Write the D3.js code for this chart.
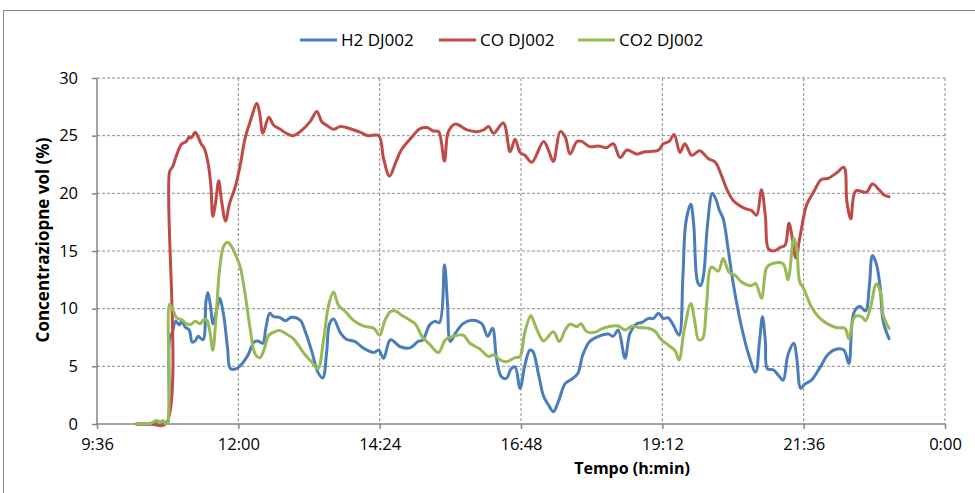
<!DOCTYPE html>
<html>
<head>
<meta charset="utf-8">
<script src="https://cdn.jsdelivr.net/npm/d3@7/dist/d3.min.js"></script>
<style>
body{margin:0;background:#fff;}
text{font-family:"Open Sans",sans-serif;fill:#000;}
</style>
</head>
<body>
<div id="chart_area"></div>
<script>
// series names
var seriesNames=["H2 DJ002","CO DJ002","CO2 DJ002"];
var seriesColors=["#4a7ebb","#be4b48","#98b954"];

// x tick labels (h:min), y ticks (%)
var xTickLabels=["9:36","12:00","14:24","16:48","19:12","21:36","0:00"];
var yTicks=[0,5,10,15,20,25,30];

// H2 DJ002
var h2Time=["10:16","10:30","10:40","10:43","10:46","10:48","10:50","10:53","10:56","11:00","11:02","11:06","11:10","11:13","11:16","11:19","11:24","11:27","11:29","11:32","11:34","11:39","11:41","11:45","11:49","11:52","11:58","12:05","12:10","12:16","12:20","12:25","12:28","12:32","12:36","12:42","12:48","12:54","13:03","13:08","13:15","13:21","13:26","13:30","13:33","13:37","13:44","13:50","13:59","14:07","14:18","14:23","14:28","14:35","14:45","14:55","15:03","15:08","15:15","15:20","15:25","15:30","15:33","15:36","15:41","15:49","15:58","16:08","16:14","16:19","16:23","16:28","16:33","16:38","16:42","16:47","16:52","16:57","17:00","17:06","17:11","17:16","17:21","17:26","17:33","17:40","17:46","17:51","17:58","18:07","18:17","18:22","18:27","18:34","18:39","18:46","18:51","18:58","19:03","19:08","19:13","19:18","19:23","19:29","19:33","19:36","19:41","19:44","19:48","19:51","19:54","19:58","20:03","20:07","20:10","20:14","20:19","20:24","20:33","20:40","20:47","20:51","20:54","20:57","20:59","21:05","21:10","21:15","21:20","21:26","21:29","21:33","21:37","21:44","21:53","22:01","22:10","22:17","22:22","22:27","22:33","22:39","22:43","22:46","22:50","22:54","22:57","23:03"];
var h2Value=[0,0,0.2,0,0.1,0.1,7.4,8.0,8.9,8.6,8.9,8.4,8.15,7.1,7.2,7.6,7.3,10.6,11.4,10.0,8.7,10.3,10.9,9.45,6.6,4.8,4.8,5.35,6.0,7.1,7.2,7.0,8.3,9.6,9.3,9.25,8.95,9.25,9.0,8.05,6.25,4.5,4.0,6.25,8.7,9.1,7.9,7.35,7.15,6.6,6.2,6.4,5.7,7.3,6.7,6.6,7.15,7.3,8.6,8.9,8.8,13.8,10.6,7.15,7.85,8.7,9.0,8.7,7.6,8.3,5.7,4.1,3.95,4.8,4.95,3.1,5.1,6.4,6.3,4.25,2.4,1.65,1.07,1.93,3.5,3.9,4.4,6.0,7.15,7.6,7.8,7.6,8.15,5.7,7.85,8.7,8.8,9.15,9.15,9.6,9.15,9.2,8.6,7.7,12.9,17.5,19.05,17.25,12.3,12.0,12.9,17.25,20.0,19.4,18.55,17.8,15.2,12.3,8.3,6.0,4.5,7.15,9.3,7.15,4.8,4.7,4.25,3.8,6.0,7.0,5.7,3.1,3.45,3.8,4.95,6.05,6.5,6.4,5.25,9.6,10.2,9.8,12.05,14.6,13.9,11.8,8.9,7.4];

// CO DJ002
var coTime=["10:16","10:30","10:46","10:50","10:53","10:57","11:02","11:07","11:10","11:12","11:16","11:19","11:22","11:25","11:29","11:32","11:34","11:37","11:40","11:43","11:47","11:51","11:57","12:02","12:07","12:12","12:19","12:22","12:25","12:31","12:36","12:42","12:49","12:56","13:03","13:13","13:20","13:25","13:30","13:37","13:44","13:54","14:04","14:12","14:23","14:28","14:34","14:40","14:46","14:57","15:05","15:12","15:19","15:24","15:30","15:34","15:41","15:53","16:03","16:10","16:15","16:20","16:30","16:37","16:42","16:47","16:52","16:59","17:11","17:16","17:21","17:28","17:33","17:38","17:45","17:50","17:58","18:07","18:15","18:22","18:29","18:36","18:46","18:54","19:08","19:13","19:19","19:24","19:30","19:35","19:42","19:50","19:59","20:06","20:12","20:18","20:24","20:28","20:36","20:43","20:48","20:53","20:57","21:00","21:05","21:12","21:17","21:21","21:25","21:28","21:32","21:39","21:46","21:54","22:01","22:10","22:17","22:20","22:24","22:29","22:40","22:46","22:53","22:58","23:03"];
var coValue=[0,0,0,21.9,22.3,23.3,24.25,24.5,24.9,24.8,25.3,24.9,24.3,23.96,22.7,20.7,18.0,19.3,21.1,19.3,17.6,19.1,20.6,22.5,24.8,26.2,27.8,26.8,25.2,26.6,25.9,25.6,25.2,25.0,25.35,26.2,27.1,26.2,25.9,25.55,25.8,25.6,25.3,25.0,25.0,23.0,21.5,22.6,23.75,24.9,25.6,25.7,25.4,25.35,22.8,25.35,26.0,25.5,25.35,25.5,25.8,25.2,26.1,23.6,24.7,23.55,23.3,22.7,24.5,23.75,22.75,25.35,24.9,23.4,24.5,24.5,24.05,24.1,23.96,24.3,23.1,23.75,23.4,23.6,23.75,24.3,24.5,25.1,23.55,24.3,23.3,23.7,23.0,22.7,21.6,20.3,19.4,19.1,18.7,18.5,18.1,20.3,18.0,15.2,15.0,15.3,15.5,17.4,15.8,14.4,16.1,19.0,20.1,21.2,21.3,21.8,22.25,19.3,17.8,20.2,20.1,20.8,20.3,19.85,19.7];

// CO2 DJ002
var co2Time=["10:16","10:30","10:37","10:40","10:43","10:46","10:48","10:50","10:54","10:57","11:02","11:07","11:12","11:16","11:21","11:25","11:28","11:31","11:34","11:37","11:41","11:45","11:49","11:53","11:58","12:02","12:07","12:12","12:17","12:22","12:26","12:31","12:36","12:42","12:49","12:56","13:01","13:08","13:15","13:21","13:27","13:32","13:37","13:42","13:49","13:57","14:07","14:18","14:24","14:29","14:35","14:40","14:46","14:55","15:01","15:07","15:15","15:24","15:31","15:39","15:49","15:56","16:06","16:15","16:20","16:27","16:33","16:42","16:47","16:52","16:58","17:00","17:06","17:11","17:21","17:27","17:33","17:38","17:45","17:49","17:55","18:03","18:13","18:27","18:34","18:41","18:49","18:58","19:05","19:11","19:18","19:25","19:29","19:34","19:41","19:45","19:49","19:53","19:57","20:02","20:09","20:14","20:20","20:26","20:33","20:43","20:47","20:53","20:58","21:02","21:15","21:20","21:26","21:29","21:32","21:36","21:43","21:51","22:00","22:10","22:18","22:22","22:28","22:35","22:39","22:44","22:50","22:55","22:57","23:03"];
var co2Value=[0,0.05,0.3,0.1,0.3,0,0.1,10.4,9.75,9.2,9.05,8.7,8.65,8.9,8.7,9.05,9.0,8.0,6.4,8.9,13.5,15.4,15.75,15.4,14.5,13.6,11.2,8.3,6.1,5.75,6.4,7.7,7.95,8.1,7.8,7.4,6.85,6.0,5.35,4.8,7.4,10.3,11.45,10.3,9.75,9.0,8.5,8.3,7.7,8.9,9.75,9.8,9.45,9.0,8.6,7.6,6.9,6.2,7.3,7.6,7.7,7.0,6.5,5.85,6.0,5.55,5.4,5.75,5.85,8.0,9.4,9.1,7.85,7.2,8.0,7.15,8.15,8.65,8.45,8.7,8.0,7.95,8.35,8.5,8.15,8.5,8.35,8.3,8.0,7.3,6.85,6.35,5.55,8.0,10.45,8.9,7.3,7.4,10.3,13.6,13.25,14.35,13.15,12.9,12.3,12.0,12.2,10.9,13.5,13.85,13.9,12.5,16.1,15.2,12.3,11.75,10.3,9.3,8.7,8.35,8.3,7.4,9.3,9.3,8.95,10.05,12.15,11.2,9.45,8.3];

var width=975,height=493;
var plotLeft=97,plotRight=945,plotTop=78,plotBottom=424;

var svg=d3.select("#chart_area")
			.append("svg")
			.attr("width",width)
			.attr("height",height);

svg.append("rect")
	.attr("width",width)
	.attr("height",height)
	.attr("fill","#fff");

// outer chart frame
svg.append("rect")
	.attr("x",3.5)
	.attr("y",10.5)
	.attr("width",width+10)
	.attr("height",height+10)
	.attr("fill","none")
	.attr("stroke","#8a8a8a")
	.attr("stroke-width",1);

var parseTime=d3.timeParse("%H:%M");
var midnight=new Date(1900,0,2,0,0);
var x=d3.scaleTime()
		.domain([parseTime("9:36"),midnight])
		.range([plotLeft,plotRight]);
var y=d3.scaleLinear()
		.domain([0,30])
		.range([plotBottom,plotTop]);

var xTicks=xTickLabels.map(function(s){
	return s=="0:00" ? midnight : parseTime(s);
});

// gridlines
svg.append("g")
	.selectAll("line")
	.data(yTicks.slice(1))
	.join("line")
	.attr("x1",plotLeft).attr("x2",plotRight)
	.attr("y1",function(d){return y(d);})
	.attr("y2",function(d){return y(d);})
	.attr("stroke","#8c8c8c")
	.attr("stroke-width",1)
	.attr("stroke-dasharray","3,2");

svg.append("g")
	.selectAll("line")
	.data(xTicks.slice(1))
	.join("line")
	.attr("x1",function(d){return x(d);})
	.attr("x2",function(d){return x(d);})
	.attr("y1",plotTop).attr("y2",plotBottom)
	.attr("stroke","#8c8c8c")
	.attr("stroke-width",1)
	.attr("stroke-dasharray","3,2");

// axes
var xAxis=svg.append("g")
			.attr("transform","translate(0,"+plotBottom+")")
			.call(d3.axisBottom(x)
				.tickValues(xTicks)
				.tickFormat(function(d,i){return xTickLabels[i];})
				.tickSize(5)
				.tickPadding(9));
var yAxis=svg.append("g")
			.attr("transform","translate("+plotLeft+",0)")
			.call(d3.axisLeft(y)
				.tickValues(yTicks)
				.tickSize(5)
				.tickPadding(14));

[xAxis,yAxis].forEach(function(a){
	a.select(".domain").attr("stroke","#868686").attr("stroke-width",1.5);
	a.selectAll(".tick line").attr("stroke","#868686").attr("stroke-width",1.5);
	a.selectAll(".tick text")
		.attr("font-family","'Open Sans',sans-serif")
		.attr("font-size",16.5)
		.attr("fill","#000");
});
xAxis.select(".domain").attr("d","M"+plotLeft+",0H"+plotRight);
yAxis.select(".domain").attr("d","M0,"+plotBottom+"V"+plotTop);

// lines
var series=[
	{name:seriesNames[0],time:h2Time,value:h2Value,color:seriesColors[0]},
	{name:seriesNames[1],time:coTime,value:coValue,color:seriesColors[1]},
	{name:seriesNames[2],time:co2Time,value:co2Value,color:seriesColors[2]}
];

var line=d3.line()
		.x(function(d){return x(d[0]);})
		.y(function(d){return y(d[1]);})
		.curve(d3.curveCatmullRom.alpha(0.5));

series.forEach(function(s){
	var pts=s.time.map(function(t,i){return [parseTime(t),s.value[i]];});
	svg.append("path")
		.datum(pts)
		.attr("d",line)
		.attr("fill","none")
		.attr("stroke",s.color)
		.attr("stroke-width",3)
		.attr("stroke-linejoin","round")
		.attr("stroke-linecap","round");
});

// legend
var legendX=[300,439,578];
var legend=svg.append("g");
series.forEach(function(s,i){
	legend.append("line")
		.attr("x1",legendX[i]).attr("x2",legendX[i]+37)
		.attr("y1",40).attr("y2",40)
		.attr("stroke",s.color)
		.attr("stroke-width",3);
	legend.append("text")
		.attr("x",legendX[i]+41)
		.attr("y",40)
		.attr("dy","0.35em")
		.attr("font-size",17)
		.text(s.name);
});

// axis titles
svg.append("text")
	.attr("transform","translate(49,240) rotate(-90)")
	.attr("text-anchor","middle")
	.attr("font-size",17)
	.attr("font-weight","bold")
	.text("Concentraziopne vol (%)");

svg.append("text")
	.attr("x",632)
	.attr("y",468)
	.attr("dy","0.35em")
	.attr("text-anchor","middle")
	.attr("font-size",16)
	.attr("font-weight","bold")
	.text("Tempo (h:min)");
</script>
</body>
</html>
